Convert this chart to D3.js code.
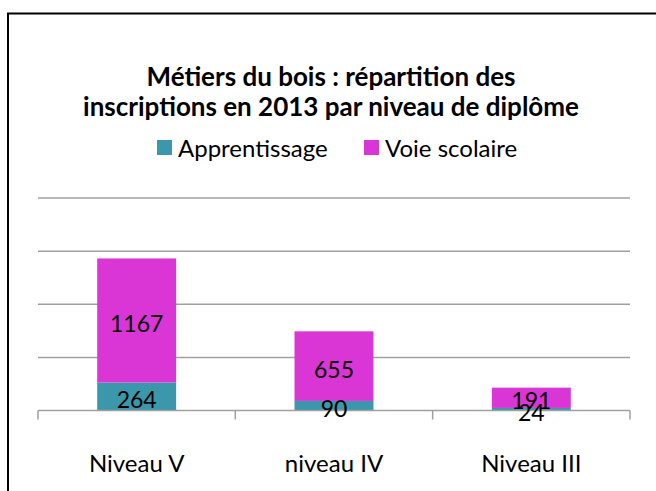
<!DOCTYPE html>
<html>
<head>
<meta charset="utf-8">
<script src="https://cdn.jsdelivr.net/npm/d3@7"></script>
<style>
  body { margin: 0; background: #fff; }
  text { font-family: Lato, "Open Sans", sans-serif; fill: #000; }
</style>
</head>
<body>
<div id="chart"></div>
<script>
// data
let categories = ["Niveau V", "niveau IV", "Niveau III"];
let apprentissage = [264, 90, 24];
let voieScolaire = [1167, 655, 191];
let seriesNames = ["Apprentissage", "Voie scolaire"];
let gridValues = [500, 1000, 1500, 2000];

let svgWidth = 656;
let svgHeight = 491;
let colors = ["#3B97AB", "#DA36D5"];

let margin = { top: 198, right: 26, bottom: 80, left: 38 };
let width = svgWidth - margin.left - margin.right;
let height = 410.5 - margin.top;

let svg = d3.select("#chart")
    .append("svg")
    .attr("width", svgWidth)
    .attr("height", svgHeight);

// outer frame (only top and left visible)
svg.append("path")
    .attr("d", `M8,${svgHeight} V13.5 H${svgWidth}`)
    .attr("fill", "none")
    .attr("stroke", "#000")
    .attr("stroke-width", 2);

// title
let title = svg.append("text")
    .attr("text-anchor", "middle")
    .attr("font-weight", "bold")
    .attr("font-size", 26);
title.append("tspan").attr("x", 331).attr("y", 86).text("Métiers du bois : répartition des");
title.append("tspan").attr("x", 331).attr("y", 116).text("inscriptions en 2013 par niveau de diplôme");

// legend
let legendX = [157, 364];
seriesNames.forEach((name, i) => {
    svg.append("rect")
        .attr("x", legendX[i])
        .attr("y", 140)
        .attr("width", 15)
        .attr("height", 15)
        .attr("fill", colors[i]);
    svg.append("text")
        .attr("x", legendX[i] + 21)
        .attr("y", 157)
        .attr("font-size", 24)
        .text(name);
});

let chartGroup = svg.append("g")
    .attr("transform", `translate(${margin.left}, ${margin.top})`);

let xScale = d3.scaleBand()
    .domain(categories)
    .range([0, width])
    .padding(0);

let yScale = d3.scaleLinear()
    .domain([0, 2000])
    .range([height, 0]);

// gridlines
chartGroup.selectAll(".grid")
    .data(gridValues)
    .join("line")
    .attr("class", "grid")
    .attr("x1", 0)
    .attr("x2", width)
    .attr("y1", d => yScale(d))
    .attr("y2", d => yScale(d))
    .attr("stroke", "#A0A0A0")
    .attr("stroke-width", 1.5);

// stacked bars
let rows = categories.map((c, i) => ({ cat: c, a: apprentissage[i], v: voieScolaire[i] }));
let stack = d3.stack().keys(["a", "v"])(rows);
let barW = xScale.bandwidth() * 0.4;

stack.forEach((layer, li) => {
    chartGroup.selectAll(".bar" + li)
        .data(layer)
        .join("rect")
        .attr("x", d => xScale(d.data.cat) + (xScale.bandwidth() - barW) / 2)
        .attr("y", d => yScale(d[1]))
        .attr("width", barW)
        .attr("height", d => yScale(d[0]) - yScale(d[1]))
        .attr("fill", colors[li]);
});

// x axis
let bottomAxis = d3.axisBottom(xScale).tickSize(0).tickFormat("");
let axisG = chartGroup.append("g")
    .attr("transform", `translate(0, ${height})`)
    .call(bottomAxis);
axisG.select(".domain").remove();
axisG.append("line")
    .attr("x1", 0).attr("x2", width)
    .attr("stroke", "#A0A0A0").attr("stroke-width", 1.5);
let edges = categories.map(c => xScale(c)).concat([width]);
axisG.selectAll(".edge")
    .data(edges)
    .join("line")
    .attr("class", "edge")
    .attr("x1", d => d).attr("x2", d => d)
    .attr("y1", 0).attr("y2", 9)
    .attr("stroke", "#A0A0A0").attr("stroke-width", 1.5);

axisG.selectAll(".cat")
    .data(categories)
    .join("text")
    .attr("class", "cat")
    .attr("x", d => xScale(d) + xScale.bandwidth() / 2)
    .attr("y", 61)
    .attr("text-anchor", "middle")
    .attr("font-size", 24)
    .text(d => d);

// value labels
stack.forEach((layer) => {
    chartGroup.selectAll(null)
        .data(layer)
        .join("text")
        .attr("x", d => xScale(d.data.cat) + xScale.bandwidth() / 2)
        .attr("y", d => (yScale(d[0]) + yScale(d[1])) / 2 + 11.5)
        .attr("text-anchor", "middle")
        .attr("font-size", 23)
        .text(d => d[1] - d[0]);
});
</script>
</body>
</html>
